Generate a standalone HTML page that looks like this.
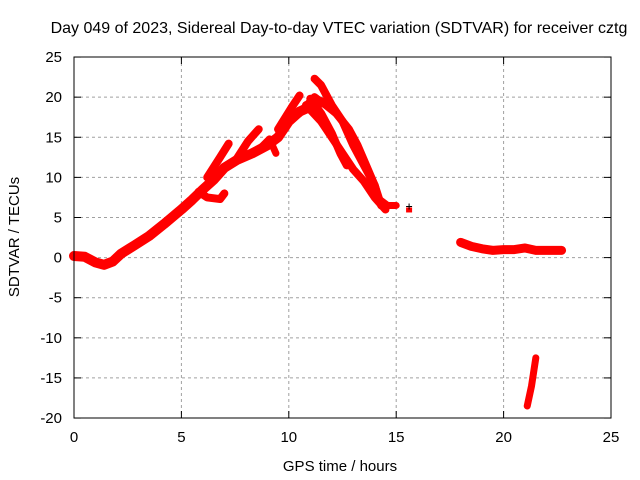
<!DOCTYPE html>
<html><head><meta charset="utf-8"><style>
body{margin:0;background:#fff}
svg{display:block;font-family:"Liberation Sans",sans-serif}
</style></head><body>
<svg id="c" width="640" height="480">
<text x="339" y="33" font-size="16" text-anchor="middle">Day 049 of 2023, Sidereal Day-to-day VTEC variation (SDTVAR) for receiver cztg</text>
<text x="340" y="471" font-size="15" text-anchor="middle">GPS time / hours</text>
<text transform="translate(19,237) rotate(-90)" font-size="15" text-anchor="middle">SDTVAR / TECUs</text>
<g id="grid"></g><g id="marks"></g>
<rect x="74" y="57" width="537" height="361" fill="none" stroke="#000"/>
</svg>
<script>
const xTicks=[0,5,10,15,20,25];
const yTicks=[25,20,15,10,5,0,-5,-10,-15,-20];
const trackWidths=[10,8,8,8,7,8,8,8,8,8,8,7,9,7];
const trackA=[[0,0.2],[0.5,0.1],[1,-0.6],[1.4,-0.9],[1.8,-0.5],[2.2,0.5],[2.8,1.5],[3.5,2.7],[4.2,4.2],[5,6],[5.5,7.2],[6,8.5],[6.5,9.7],[7,11.2],[7.6,12.2],[8.3,13],[9,14],[9.5,15],[10,17],[10.5,18.2],[11,18.8]];
const trackHook=[[5.8,8.2],[6.2,7.5],[6.8,7.3],[7,8]];
const trackB1=[[6.2,10],[6.8,12.5],[7.2,14.2]];
const trackB2=[[7.5,12],[8.1,14.5],[8.6,16]];
const trackB3=[[8.5,13.2],[9.1,14.8],[9.4,13]];
const trackPeak1=[[9.5,16],[10.2,19],[10.5,20.2]];
const trackPeak2=[[10.5,18],[11.2,20],[11.6,19.2]];
const trackD1=[[11.2,22.3],[11.5,21.5],[12,19],[12.5,17],[13,14],[13.5,11.5],[14,9],[14.3,6.5]];
const trackD2=[[11,19.8],[11.5,18],[12,15.5],[12.4,13],[12.7,11.5]];
const trackD3=[[10.8,19],[11.5,17],[12,15],[12.5,13],[13,11],[13.5,9.5],[14,7.5],[14.5,6]];
const trackD4=[[11.5,19.5],[12.2,18],[12.8,16],[13.2,14],[13.6,11.5],[14,9],[14.2,7]];
const trackD5=[[14.1,7.5],[14.6,6.5],[15,6.5]];
const trackC=[[18,1.9],[18.5,1.4],[19,1.1],[19.5,0.9],[20,1.0],[20.5,1.0],[21,1.2],[21.5,0.9],[22,0.9],[22.7,0.9]];
const trackE=[[21.1,-18.5],[21.3,-16],[21.5,-12.5]];
const tracks=[trackA,trackHook,trackB1,trackB2,trackB3,trackPeak1,trackPeak2,trackD1,trackD2,trackD3,trackD4,trackD5,trackC,trackE];
const isolated=[[15.6,6]];
const X=v=>74+v*537/25, Y=v=>257.6-v*361/45;
const NS='http://www.w3.org/2000/svg';
const g=document.getElementById('grid'), m=document.getElementById('marks');
function mk(t,a,p){const e=document.createElementNS(NS,t);for(const k in a)e.setAttribute(k,a[k]);p.appendChild(e);return e;}
xTicks.forEach(v=>{
 if(v>0&&v<25){const l=mk('line',{x1:X(v),x2:X(v),y1:57,y2:418,stroke:'#a0a0a0','stroke-dasharray':'3,3'},g);
 
 }
 mk('line',{x1:X(v),x2:X(v),y1:418,y2:411,stroke:'#000'},g);
 mk('line',{x1:X(v),x2:X(v),y1:57,y2:64,stroke:'#000'},g);
 const t=mk('text',{x:X(v),y:442,'font-size':15,'text-anchor':'middle'},g);t.textContent=v;
 
 
});
yTicks.forEach(v=>{
 if(v<25&&v>-20){const l=mk('line',{x1:74,x2:611,y1:Y(v),y2:Y(v),stroke:'#a0a0a0','stroke-dasharray':'3,3'},g);
 
 }
 mk('line',{x1:74,x2:81,y1:Y(v),y2:Y(v),stroke:'#000'},g);
 mk('line',{x1:611,x2:604,y1:Y(v),y2:Y(v),stroke:'#000'},g);
 const t=mk('text',{x:62,y:Y(v)+5,'font-size':15,'text-anchor':'end'},g);t.textContent=v;
 
 
});
tracks.forEach((tr,i)=>{
 const p=mk('polyline',{points:tr.map(d=>X(d[0])+','+Y(d[1])).join(' '),fill:'none',stroke:'#ff0000','stroke-width':trackWidths[i],'stroke-linecap':'round','stroke-linejoin':'round'},m);
 
 
});
isolated.forEach(d=>{
 const r=mk('rect',{x:X(d[0])-3,y:Y(d[1])-2,width:6,height:5,fill:'#ff0000'},m);
 
 
 mk('path',{d:`M${X(d[0])-3},${Y(d[1])-3}h6M${X(d[0])},${Y(d[1])-6}v6`,stroke:'#000'},m);
});
</script>
</body></html>
